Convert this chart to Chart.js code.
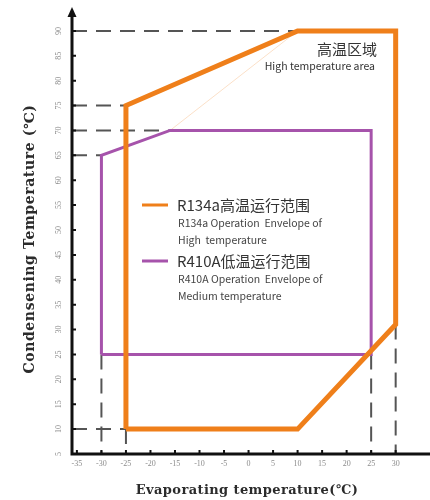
<!DOCTYPE html>
<html>
<head>
<meta charset="utf-8">
<script src="https://cdn.jsdelivr.net/npm/chart.js@4.4.1/dist/chart.umd.min.js"></script>
<style>
    html, body { margin: 0; padding: 0; background: #fff; }
</style>
</head>
<body>
<canvas id="envelope_chart" width="430" height="500"></canvas>
<script>
// axis ranges and tick labels
var evapMin = -36, evapMax = 37;
var condMin = 5, condMax = 95;
var evapTicks = [-35, -30, -25, -20, -15, -10, -5, 0, 5, 10, 15, 20, 25, 30];
var condTicks = [5, 10, 15, 20, 25, 30, 35, 40, 45, 50, 55, 60, 65, 70, 75, 80, 85, 90];

// R134a high temperature envelope (evaporating, condensing)
var r134aEvap = [-25, 10, 30, 30, 10, -25, -25];
var r134aCond = [10, 10, 31, 90, 90, 75, 10];

// R410A medium temperature envelope
var r410aEvap = [-30, 25, 25, -16, -30, -30];
var r410aCond = [25, 25, 70, 70, 65, 25];

// faint leftover line inside the high temperature area
var ghostEvap = [-16, 10];
var ghostCond = [70, 90];

// dashed guides: horizontal ones run from the y axis, vertical ones drop to the x axis
var hGuideCond = [90, 75, 70, 65, 10];
var hGuideEnd = [10, -25, -16, -30, -25];
var vGuideEvap = [-30, -25, 25, 30];
var vGuideTop = [25, 10, 25, 31];

var orange = '#ef7f1a';
var purple = '#a653ab';

function to_points(xs, ys) {
    return xs.map(function(x, i) { return {x: x, y: ys[i]}; });
}

function guide_datasets() {
    var sets = [];
    hGuideCond.forEach(function(c, i) {
        sets.push(guide([{x: evapMin, y: c}, {x: hGuideEnd[i], y: c}]));
    });
    vGuideEvap.forEach(function(e, i) {
        sets.push(guide([{x: e, y: vGuideTop[i]}, {x: e, y: condMin}]));
    });
    return sets;
}

function guide(points) {
    return {
        data: points,
        showLine: true,
        borderColor: '#555',
        borderWidth: 2,
        borderDash: [15, 9],
        pointRadius: 0,
        fill: false
    };
}

var datasets = [
    {
        label: 'R134a',
        data: to_points(r134aEvap, r134aCond),
        showLine: true,
        borderColor: orange,
        borderWidth: 5,
        borderJoinStyle: 'miter',
        pointRadius: 0,
        fill: false
    },
    {
        label: 'R410A',
        data: to_points(r410aEvap, r410aCond),
        showLine: true,
        borderColor: purple,
        borderWidth: 3,
        borderJoinStyle: 'miter',
        pointRadius: 0,
        fill: false
    },
    {
        data: to_points(ghostEvap, ghostCond),
        showLine: true,
        borderColor: 'rgba(239,127,26,0.3)',
        borderWidth: 0.8,
        pointRadius: 0,
        fill: false
    }
].concat(guide_datasets());

var legendItems = [
    {color: orange, title: 'R134a高温运行范围', lines: ['R134a Operation  Envelope of', 'High  temperature']},
    {color: purple, title: 'R410A低温运行范围', lines: ['R410A Operation  Envelope of', 'Medium temperature']}
];

var decor = {
    id: 'decor',
    afterDraw: function(chart) {
        var ctx = chart.ctx;
        var area = chart.chartArea;
        var xs = chart.scales.x, ys = chart.scales.y;
        ctx.save();

        // axes with arrow on y
        ctx.strokeStyle = '#111';
        ctx.fillStyle = '#111';
        ctx.lineWidth = 3;
        ctx.beginPath();
        ctx.moveTo(area.left, area.top + 8);
        ctx.lineTo(area.left, area.bottom);
        ctx.lineTo(area.right, area.bottom);
        ctx.stroke();
        ctx.beginPath();
        ctx.moveTo(area.left, area.top + 1);
        ctx.lineTo(area.left - 4.5, area.top + 11);
        ctx.lineTo(area.left + 4.5, area.top + 11);
        ctx.closePath();
        ctx.fill();

        // inward tick marks
        ctx.lineWidth = 2;
        ctx.beginPath();
        condTicks.forEach(function(v) {
            var py = ys.getPixelForValue(v);
            ctx.moveTo(area.left, py);
            ctx.lineTo(area.left + 4, py);
        });
        evapTicks.forEach(function(v) {
            var px = xs.getPixelForValue(v);
            ctx.moveTo(px, area.bottom);
            ctx.lineTo(px, area.bottom - 4);
        });
        ctx.stroke();

        // rotated y tick labels
        ctx.fillStyle = '#8c8c8c';
        ctx.font = '8px "Liberation Serif"';
        ctx.textAlign = 'center';
        ctx.textBaseline = 'middle';
        condTicks.forEach(function(v) {
            ctx.save();
            ctx.translate(area.left - 13, ys.getPixelForValue(v));
            ctx.rotate(-Math.PI / 2);
            ctx.fillText(String(v), 0, 0);
            ctx.restore();
        });

        // axis titles
        ctx.fillStyle = '#2b2b2b';
        ctx.font = 'bold 14px "DejaVu Serif"';
        ctx.letterSpacing = '0.6px';
        ctx.save();
        ctx.translate(30, 239);
        ctx.rotate(-Math.PI / 2);
        ctx.fillText('Condensening Temperature (℃)', 0, 0);
        ctx.restore();
        ctx.font = 'bold 13px "DejaVu Serif"';
        ctx.letterSpacing = '0.4px';
        ctx.fillText('Evaporating temperature(℃)', 247, 491);
        ctx.letterSpacing = '0px';

        // high temperature area note
        ctx.textAlign = 'right';
        ctx.fillStyle = '#333';
        ctx.font = '15px "Noto Sans CJK SC"';
        ctx.fillText('高温区域', 377, 49);
        ctx.font = '10.5px "Noto Sans CJK SC"';
        ctx.fillText('High temperature area', 375, 66);

        // legend
        ctx.textAlign = 'left';
        var rows = [205, 261];
        legendItems.forEach(function(item, i) {
            var y = rows[i];
            ctx.strokeStyle = item.color;
            ctx.lineWidth = 3;
            ctx.beginPath();
            ctx.moveTo(142, y);
            ctx.lineTo(168, y);
            ctx.stroke();
            ctx.fillStyle = '#333';
            ctx.font = '15px "Noto Sans CJK SC"';
            ctx.fillText(item.title, 177, y);
            ctx.fillStyle = '#444';
            ctx.font = '10.5px "Noto Sans CJK SC"';
            item.lines.forEach(function(t, j) {
                ctx.fillText(t, 178, y + 18 + j * 17);
            });
        });
        ctx.restore();
    }
};

new Chart(document.getElementById('envelope_chart'), {
    type: 'scatter',
    data: {datasets: datasets},
    options: {
        responsive: false,
        animation: false,
        layout: {padding: {top: 6, right: 0, left: 0, bottom: 0}},
        plugins: {legend: {display: false}, tooltip: {enabled: false}},
        scales: {
            x: {
                type: 'linear',
                min: evapMin,
                max: evapMax,
                afterBuildTicks: function(s) { s.ticks = evapTicks.map(function(v) { return {value: v}; }); },
                afterFit: function(s) { s.height = 46; },
                grid: {display: false, drawTicks: false},
                border: {display: false},
                ticks: {
                    font: {family: 'Liberation Serif', size: 8},
                    color: '#8c8c8c',
                    padding: 5,
                    maxRotation: 0,
                    autoSkip: false
                }
            },
            y: {
                type: 'linear',
                min: condMin,
                max: condMax,
                afterBuildTicks: function(s) { s.ticks = condTicks.map(function(v) { return {value: v}; }); },
                afterFit: function(s) { s.width = 72; },
                grid: {display: false, drawTicks: false},
                border: {display: false},
                ticks: {display: false}
            }
        }
    },
    plugins: [decor]
});
</script>
</body>
</html>
